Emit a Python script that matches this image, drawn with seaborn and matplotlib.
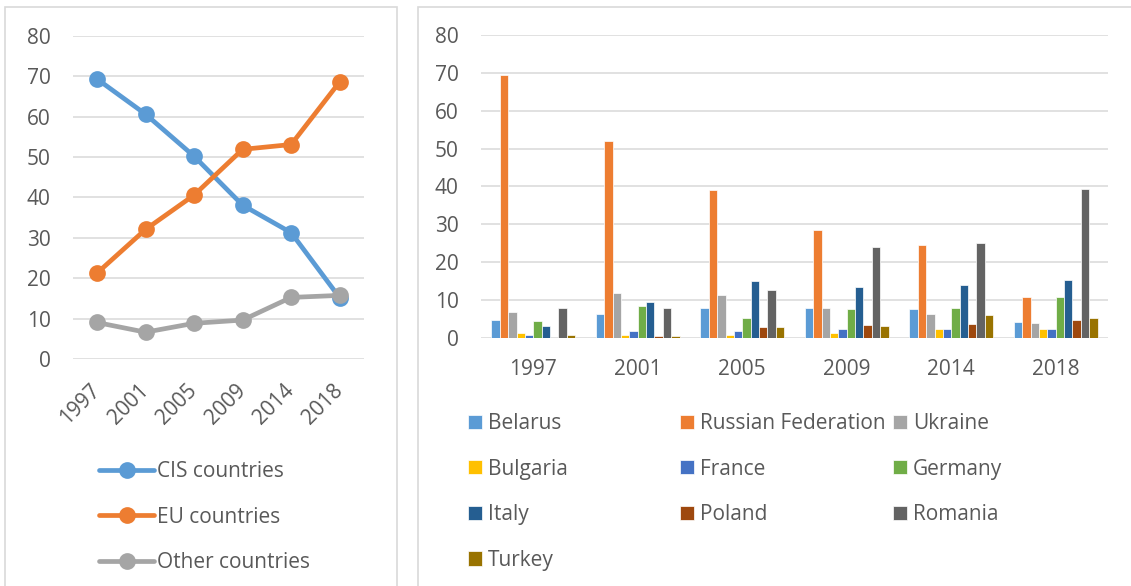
import numpy as np
import pandas as pd
import matplotlib
matplotlib.use('Agg')
import matplotlib.pyplot as plt
from matplotlib.patches import Rectangle
import seaborn as sns

# Данные: левая диаграмма (доли по группам стран)
years = ['1997', '2001', '2005', '2009', '2014', '2018']
groups = ['CIS countries', 'EU countries', 'Other countries']
cis = [69.3, 60.6, 50.2, 38.1, 31.3, 15.2]
eu = [21.3, 32.1, 40.6, 51.9, 53.1, 68.6]
other = [9.1, 6.7, 8.9, 9.7, 15.3, 15.8]

# Данные: правая диаграмма (по странам)
countries = ['Belarus', 'Russian Federation', 'Ukraine', 'Bulgaria', 'France',
             'Germany', 'Italy', 'Poland', 'Romania', 'Turkey']
belarus = [4.8, 6.3, 7.9, 7.9, 7.7, 4.2]
russia = [69.3, 52.1, 39.1, 28.5, 24.5, 10.7]
ukraine = [6.7, 11.9, 11.2, 7.9, 6.2, 3.8]
bulgaria = [1.2, 0.7, 0.8, 1.2, 2.2, 2.2]
france = [0.7, 1.7, 1.8, 2.2, 2.2, 2.2]
germany = [4.3, 8.4, 5.3, 7.5, 7.8, 10.8]
italy = [3.2, 9.4, 15.0, 13.4, 14.0, 15.3]
poland = [0.0, 0.4, 2.8, 3.4, 3.6, 4.7]
romania = [7.9, 7.8, 12.5, 23.9, 25.1, 39.2]
turkey = [0.7, 0.4, 2.7, 3.0, 5.9, 5.3]

line_colors = ['#5B9BD5', '#ED7D31', '#A5A5A5']
bar_colors = ['#5B9BD5', '#ED7D31', '#A5A5A5', '#FFC000', '#4472C4',
              '#70AD47', '#255E91', '#9E480E', '#636363', '#997300']

sns.set_style('white')
plt.rcParams['font.family'] = ['Open Sans', 'DejaVu Sans']
text_color = '#595959'
grid_color = '#D9D9D9'
fs = 15

# Таблицы в длинном формате
line_df = pd.DataFrame({
    'year': years * 3,
    'share': cis + eu + other,
    'group': np.repeat(groups, len(years)),
})
series = [belarus, russia, ukraine, bulgaria, france, germany, italy, poland, romania, turkey]
bar_df = pd.DataFrame({
    'year': years * len(countries),
    'share': sum(series, []),
    'country': np.repeat(countries, len(years)),
})

W, H = 1131, 586
fig = plt.figure(figsize=(W / 100, H / 100), dpi=100)

# Рамки панелей
fig.add_artist(Rectangle((5 / W, -0.05), 392 / W, 1.05 - 7 / H, transform=fig.transFigure,
                         fill=False, edgecolor=grid_color, linewidth=1.2))
fig.add_artist(Rectangle((418 / W, -0.05), 0.7, 1.05 - 7 / H, transform=fig.transFigure,
                         fill=False, edgecolor=grid_color, linewidth=1.2))

ax1 = fig.add_axes([72.7 / W, 1 - 359.3 / H, 291.3 / W, 323.6 / H])
ax2 = fig.add_axes([481 / W, 1 - 337.7 / H, 627 / W, 302.7 / H])

# Левая диаграмма
sns.pointplot(data=line_df, x='year', y='share', hue='group', palette=line_colors,
              markers='o', linestyles='-', errorbar=None, markersize=9.5, linewidth=3.4,
              ax=ax1)
# Правая диаграмма
sns.barplot(data=bar_df, x='year', y='share', hue='country', palette=bar_colors,
            saturation=1, width=0.8, gap=0, edgecolor='white', linewidth=0.5, ax=ax2)

for ax in (ax1, ax2):
    ax.set_ylim(0, 80)
    ax.set_xlim(-0.5, 5.5)
    ax.set_yticks(range(0, 81, 10))
    ax.set_xlabel('')
    ax.set_ylabel('')
    ax.yaxis.grid(True, color=grid_color, linewidth=1.1)
    ax.xaxis.grid(False)
    ax.set_axisbelow(True)
    for s in ax.spines.values():
        s.set_visible(False)
    ax.tick_params(axis='both', length=0, labelsize=fs, labelcolor=text_color)
    ax.tick_params(axis='y', pad=16)

ax1.tick_params(axis='x', pad=20)
for lbl in ax1.get_xticklabels():
    lbl.set_rotation(45)
    lbl.set_ha('right')
    lbl.set_va('center')
    lbl.set_rotation_mode('anchor')
ax2.tick_params(axis='x', pad=15)

# Легенды
h1, l1 = ax1.get_legend_handles_labels()
ax1.get_legend().remove()
fig.legend(h1, l1, loc='upper left', bbox_to_anchor=(99 / W, 1 - 461 / H), frameon=False,
           fontsize=fs, labelcolor=text_color, handlelength=2.65, handletextpad=0.15,
           labelspacing=1.18, borderpad=0, borderaxespad=0)

h2, l2 = ax2.get_legend_handles_labels()
ax2.get_legend().remove()
col_x = [468, 680, 893]
for c in range(3):
    idx = list(range(c, len(countries), 3))
    fig.legend([h2[i] for i in idx], [l2[i] for i in idx], loc='upper left',
               bbox_to_anchor=(col_x[c] / W, 1 - 413 / H), frameon=False, fontsize=fs,
               labelcolor=text_color, handlelength=0.68, handleheight=0.68,
               handletextpad=0.28, labelspacing=1.18, borderpad=0, borderaxespad=0)

fig.savefig('out.png', dpi=100)
